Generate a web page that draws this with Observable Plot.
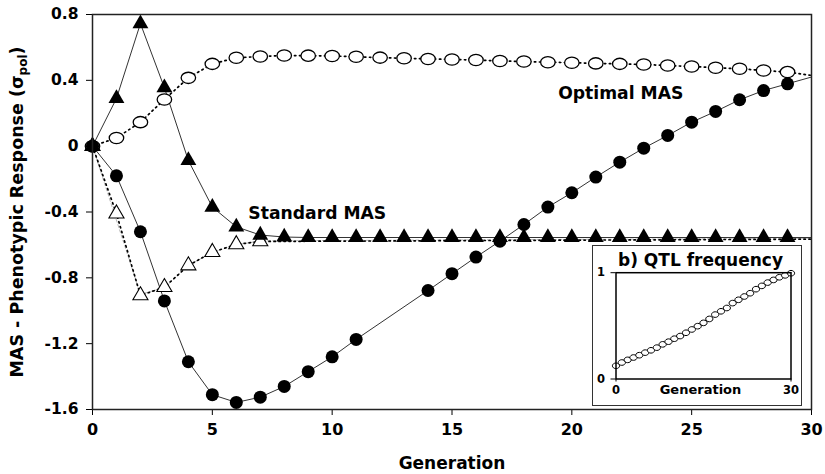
<!DOCTYPE html>
<html>
<head>
<meta charset="utf-8">
<script src="https://cdn.jsdelivr.net/npm/d3@7"></script>
<script src="https://cdn.jsdelivr.net/npm/@observablehq/plot@0.6"></script>
<style>
  html, body { margin: 0; padding: 0; background: #fff; }
  body { width: 825px; height: 474px; position: relative; overflow: hidden; font-family: "DejaVu Sans", sans-serif; }
  #main { position: absolute; left: 0; top: 0; }
  #inset { position: absolute; left: 592px; top: 245px; width: 208px; height: 159px; border: 1.5px solid #333; background: #fff; }
  svg { display: block; }
</style>
</head>
<body>
<div id="main"></div>
<div id="inset"></div>
<script>
// ---------- Data ----------
// Optimal MAS (filled circles, solid line)
const optimalGen = [0,1,2,3,4,5,6,7,8,9,10,11,14,15,16,17,18,19,20,21,22,23,24,25,26,27,28,29];
const optimalVal = [0,-0.18,-0.52,-0.94,-1.31,-1.51,-1.557,-1.525,-1.46,-1.37,-1.28,-1.174,-0.877,-0.775,-0.674,-0.577,-0.476,-0.37,-0.283,-0.188,-0.097,-0.012,0.065,0.146,0.211,0.282,0.338,0.379];
const optimalEnd = [30, 0.42];   // line continues to the right edge

// Standard MAS (filled triangles, solid line)
const standardGen = [0,1,2,3,4,5,6,7,8,9,10,11,12,13,14,15,16,17,18,19,20,21,22,23,24,25,26,27,28,29];
const standardVal = [0,0.29,0.745,0.355,-0.087,-0.37,-0.49,-0.54,-0.552,-0.555,-0.555,-0.555,-0.555,-0.555,-0.555,-0.555,-0.555,-0.555,-0.555,-0.555,-0.555,-0.555,-0.555,-0.555,-0.555,-0.555,-0.555,-0.555,-0.555,-0.555];
const standardEnd = [30, -0.555];

// Open circles (dotted line)
const openCircGen = [0,1,2,3,4,5,6,7,8,9,10,11,12,13,14,15,16,17,18,19,20,21,22,23,24,25,26,27,28,29];
const openCircVal = [0,0.05,0.146,0.284,0.415,0.50,0.537,0.545,0.551,0.55,0.548,0.543,0.538,0.534,0.53,0.527,0.523,0.518,0.514,0.51,0.507,0.503,0.50,0.496,0.49,0.484,0.477,0.47,0.46,0.45];
const openCircEnd = [30, 0.43];

// Open triangles (dotted line)
const openTriGen = [0,1,2,3,4,5,6,7];
const openTriVal = [0,-0.41,-0.907,-0.857,-0.725,-0.644,-0.597,-0.579];
const openTriEnd = [30, -0.565];

// Light grey dashed line
const greyGen = [0,2,3,4,5,6,7,30];
const greyVal = [0,-0.9,-0.86,-0.725,-0.645,-0.6,-0.575,-0.56];

// Annotations
const labelText = ["Optimal MAS", "Standard MAS"];
const labelGen = [22.04, 9.38];
const labelVal = [0.323, -0.409];

// Axis ticks
const xTicks = [0,5,10,15,20,25,30];
const yTicks = [-1.6,-1.2,-0.8,-0.4,0,0.4,0.8];

// Inset: QTL frequency
const qtlGen = [0,1,2,3,4,5,6,7,8,9,10,11,12,13,14,15,16,17,18,19,20,21,22,23,24,25,26,27,28,29,30];
const qtlVal = [0.124,0.155,0.18,0.202,0.224,0.248,0.27,0.295,0.326,0.351,0.379,0.404,0.435,0.466,0.497,0.528,0.565,0.606,0.637,0.668,0.714,0.745,0.776,0.807,0.845,0.876,0.907,0.932,0.957,0.975,0.995];
const insetXTicks = [0,30];
const insetYTicks = [0,1];

// ---------- Build rows ----------
const rows = (g, v) => g.map((d, i) => ({g: d, v: v[i]}));
const optimalPts = rows(optimalGen, optimalVal);
const optimalLine = [...optimalPts, {g: optimalEnd[0], v: optimalEnd[1]}];
const standardPts = rows(standardGen, standardVal);
const standardLine = [...standardPts, {g: standardEnd[0], v: standardEnd[1]}];
const openCircPts = rows(openCircGen, openCircVal);
const openCircLine = [...openCircPts, {g: openCircEnd[0], v: openCircEnd[1]}];
const openTriPts = rows(openTriGen, openTriVal);
const openTriLine = [...openTriPts, {g: openTriEnd[0], v: openTriEnd[1]}];
const greyLine = rows(greyGen, greyVal);
const labels = labelText.map((t, i) => ({t, g: labelGen[i], v: labelVal[i]}));
const qtlPts = rows(qtlGen, qtlVal);

// Elliptical open-circle symbol (reference markers are slightly wide)
const ellipse = {
  draw(ctx, size) {
    const r = Math.sqrt(size / Math.PI), rx = r * 1.13, ry = r * 0.88, k = 0.5523;
    ctx.moveTo(rx, 0);
    ctx.bezierCurveTo(rx, ry * k, rx * k, ry, 0, ry);
    ctx.bezierCurveTo(-rx * k, ry, -rx, ry * k, -rx, 0);
    ctx.bezierCurveTo(-rx, -ry * k, -rx * k, -ry, 0, -ry);
    ctx.bezierCurveTo(rx * k, -ry, rx, -ry * k, rx, 0);
    ctx.closePath();
  }
};

const yFmt = d => d === 0 ? "0" : d.toFixed(1);

const main = Plot.plot({
  width: 825, height: 474,
  marginLeft: 92, marginRight: 14, marginTop: 14, marginBottom: 65,
  x: {domain: [0, 30]},
  y: {domain: [-1.6, 0.8]},
  style: {fontFamily: "DejaVu Sans", fontWeight: "bold", fontSize: "15.5px", color: "#000", background: "#fff", overflow: "visible"},
  marks: [
    Plot.axisY({ticks: yTicks, tickFormat: yFmt, tickSize: 6, tickPadding: 8, label: null, fontSize: 15.5, stroke: "#000"}),
    Plot.axisX({ticks: xTicks, tickFormat: d => String(d), tickSize: 6, tickPadding: 8, label: null, fontSize: 16, stroke: "#000"}),
    Plot.line(greyLine, {x: "g", y: "v", stroke: "#b8b8b8", strokeWidth: 1, strokeDasharray: "3,2.5"}),
    Plot.line(openCircLine, {x: "g", y: "v", stroke: "#000", strokeWidth: 1.7, strokeDasharray: "1.4,3.6"}),
    Plot.line(openTriLine, {x: "g", y: "v", stroke: "#000", strokeWidth: 1.7, strokeDasharray: "1.4,3.6"}),
    Plot.line(standardLine, {x: "g", y: "v", stroke: "#333", strokeWidth: 1}),
    Plot.line(optimalLine, {x: "g", y: "v", stroke: "#333", strokeWidth: 1}),
    Plot.dot(openTriPts, {x: "g", y: "v", symbol: "triangle", r: 5.6, fill: "#fff", stroke: "#000", strokeWidth: 1.1}),
    Plot.dot(openCircPts, {x: "g", y: "v", symbol: ellipse, r: 6.4, fill: "#fff", stroke: "#000", strokeWidth: 1.3}),
    Plot.dot(standardPts, {x: "g", y: "v", symbol: "triangle", r: 5.9, fill: "#000", stroke: "none"}),
    Plot.dot(optimalPts, {x: "g", y: "v", r: 6.5, fill: "#000", stroke: "none"}),
    Plot.text(labels, {x: "g", y: "v", text: "t", fontSize: 17.2, fill: "#000", lineAnchor: "middle"}),
    Plot.text(["Generation"], {frameAnchor: "bottom", dy: 54, fontSize: 17, fill: "#000", lineAnchor: "middle"}),
    Plot.frame({stroke: "#222", strokeWidth: 1.5})
  ]
});
document.getElementById("main").appendChild(main);

// y-axis title with subscript
const yl = d3.select(main).append("text")
  .attr("transform", "translate(23,212) rotate(-90)")
  .attr("text-anchor", "middle")
  .attr("font-size", 17.5)
  .attr("font-weight", "bold")
  .attr("fill", "#000");
yl.append("tspan").text("MAS - Phenotypic Response (σ");
yl.append("tspan").attr("font-size", 12).attr("dy", 4).text("pol");
yl.append("tspan").attr("dy", -4).text(")");

const inset = Plot.plot({
  width: 208, height: 159,
  marginLeft: 22.5, marginRight: 10.5, marginTop: 26.2, marginBottom: 26.5,
  x: {domain: [0, 30]},
  y: {domain: [0, 1]},
  style: {fontFamily: "DejaVu Sans", fontWeight: "bold", fontSize: "11px", color: "#000", background: "#fff", overflow: "visible"},
  marks: [
    Plot.axisY({ticks: insetYTicks, tickFormat: d => String(d), tickSize: 5, tickPadding: 6, label: null, fontSize: 11.5}),
    Plot.axisX({ticks: insetXTicks, tickFormat: d => String(d), tickSize: 3, tickPadding: 4, label: null, fontSize: 11.5}),
    Plot.dot(qtlPts, {x: "g", y: "v", symbol: ellipse, r: 3.2, fill: "#fff", stroke: "#000", strokeWidth: 1}),
    Plot.frame({stroke: "#000", strokeWidth: 1.5}),
    Plot.text(["b) QTL frequency"], {frameAnchor: "top", dy: -12.5, dx: -3, fontSize: 17, fill: "#000", lineAnchor: "middle"}),
    Plot.text(["Generation"], {frameAnchor: "bottom", dy: 11, dx: -3, fontSize: 13, fill: "#000", lineAnchor: "middle"})
  ]
});
document.getElementById("inset").appendChild(inset);
</script>
</body>
</html>
